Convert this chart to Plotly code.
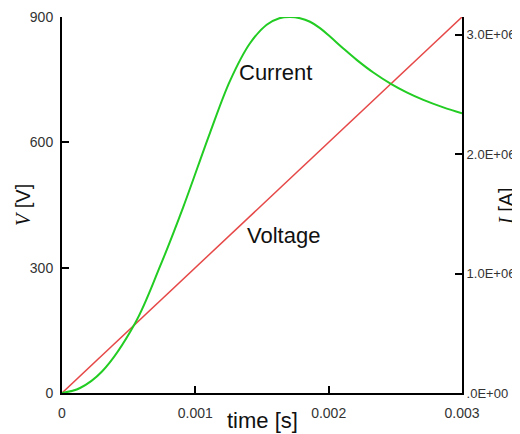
import plotly.graph_objects as go

# Data
time_v = [0.0, 0.003]
voltage = [0, 900]

time_i = [0.0, 0.000135, 0.0003, 0.000548, 0.000735, 0.00091, 0.00111, 0.00126,
          0.00141, 0.001535, 0.00163, 0.00171, 0.001785, 0.00186, 0.001935,
          0.00201, 0.00211, 0.00221, 0.002335, 0.00247, 0.002585, 0.00271,
          0.00286, 0.003]
current = [0.0, 0.042e6, 0.18e6, 0.584e6, 1.06e6, 1.56e6, 2.18e6, 2.615e6,
           2.93e6, 3.085e6, 3.14e6, 3.15e6, 3.14e6, 3.11e6, 3.057e6,
           2.986e6, 2.886e6, 2.791e6, 2.685e6, 2.588e6, 2.519e6, 2.456e6,
           2.393e6, 2.343e6]

x_ticks = [0, 0.001, 0.002, 0.003]
x_ticktext = ["0", "0.001", "0.002", "0.003"]
v_ticks = [0, 300, 600, 900]
i_ticks = [0, 1e6, 2e6, 3e6]
i_ticktext = [".0E+00", "1.0E+06", "2.0E+06", "3.0E+06"]

tickfont = dict(family="Liberation Sans, Arial, sans-serif", size=14, color="#333333")
tickfont_r = dict(family="Liberation Sans, Arial, sans-serif", size=13, color="#333333")
axis_common = dict(showline=True, linecolor="black", linewidth=2,
                   ticks="inside", ticklen=7, tickwidth=2, tickcolor="black",
                   showgrid=False, zeroline=False, automargin=False)

fig = go.Figure()
fig.add_trace(go.Scatter(x=time_v, y=voltage, mode="lines",
                         line=dict(color="#e64848", width=1.5), yaxis="y",
                         showlegend=False))
fig.add_trace(go.Scatter(x=time_i, y=current, mode="lines",
                         line=dict(color="#22cc22", width=2, shape="spline", smoothing=1.0),
                         yaxis="y2", showlegend=False))

title_font = dict(family="Liberation Sans, Arial, sans-serif", size=22, color="#111111")

# page offset of the figure inside the browser (body margin)
OFF = 8
FW, FH = 520, 434 - OFF
pl, pt = 62 - OFF, 17 - OFF
W, H = 400, 376
pr = FW - pl - W
pb = FH - pt - H


def paper_xy(px, py):
    # px, py: page pixel positions
    return (px - OFF - pl) / W, (pt + H - (py - OFF)) / H


tx, ty = paper_xy(262, 420)
vx, vy = paper_xy(23, 205)
ix, iy = paper_xy(506, 206)

fig.update_layout(
    width=FW, height=FH,
    margin=dict(l=pl, r=pr, t=pt, b=pb),
    paper_bgcolor="white", plot_bgcolor="white",
    font=dict(family="Liberation Sans, Arial, sans-serif", color="#111111"),
    xaxis=dict(range=[0, 0.003], tickvals=x_ticks, ticktext=x_ticktext,
               ticklabelstandoff=6, tickfont=tickfont, **axis_common),
    yaxis=dict(range=[0, 900], tickvals=v_ticks, ticklabelstandoff=4,
               tickfont=tickfont, **axis_common),
    yaxis2=dict(range=[0, 3.15e6], tickvals=i_ticks, ticktext=i_ticktext,
                overlaying="y", side="right", ticklabelstandoff=0,
                tickfont=tickfont_r, **axis_common),
    annotations=[
        dict(x=0.0016, y=768, xref="x", yref="y", text="Current", showarrow=False,
             font=title_font),
        dict(x=0.00166, y=378, xref="x", yref="y", text="Voltage", showarrow=False,
             font=title_font),
        dict(x=tx, y=ty, xref="paper", yref="paper", text="time [s]",
             showarrow=False, font=title_font, xanchor="center", yanchor="middle"),
        dict(x=vx, y=vy, xref="paper", yref="paper",
             text="<span style='font-family:Liberation Serif'><i>V</i></span> [V]",
             showarrow=False, textangle=-90, xanchor="center", yanchor="middle",
             font=dict(size=20, color="#111111")),
        dict(x=ix, y=iy, xref="paper", yref="paper",
             text="<span style='font-family:Liberation Serif'><i>I</i></span> [A]",
             showarrow=False, textangle=-90, xanchor="center", yanchor="middle",
             font=dict(size=20, color="#111111")),
    ],
)

fig.write_html("out.html")
